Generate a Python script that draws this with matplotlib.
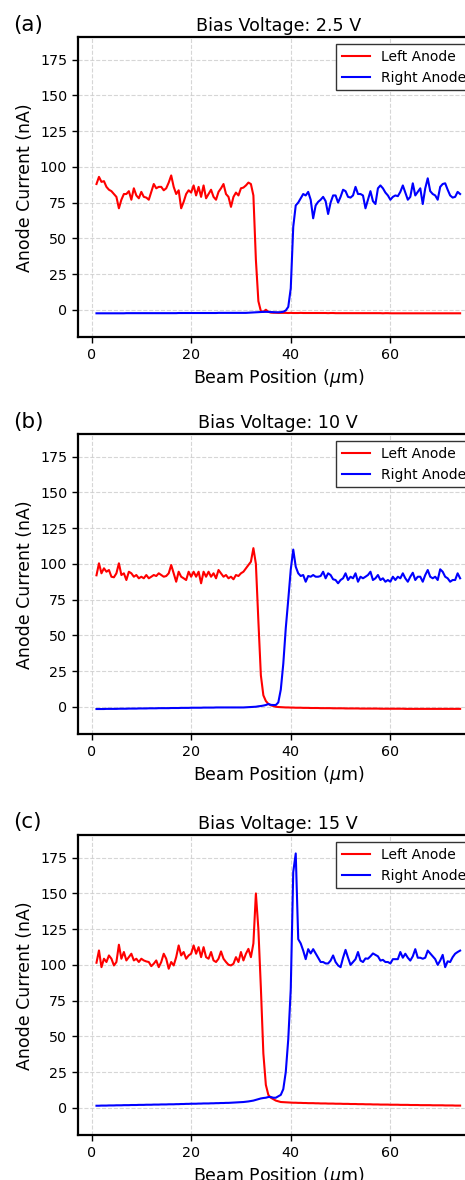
import numpy as np
import matplotlib
matplotlib.use("Agg")
import matplotlib.pyplot as plt

# Beam positions (µm), 0.5 µm step from 1 to 74
beam_pos = np.arange(1.0, 74.001, 0.5)

panel_labels = ["(a)", "(b)", "(c)"]
titles = ["Bias Voltage: 2.5 V", "Bias Voltage: 10 V", "Bias Voltage: 15 V"]

left_25 = [
    88, 93, 89.5, 90, 86, 84, 83, 81, 79, 71,
    77, 81, 81, 83, 77, 85, 80, 78, 82.5, 79,
    78.5, 77, 82.5, 88, 85, 86, 86, 83.6, 85, 89,
    94, 86, 81, 83.6, 71, 75.5, 81, 83.6, 82, 87,
    80, 86, 79, 87, 78, 81, 84, 79, 77, 82.5,
    85, 88, 81, 79, 72, 79, 82, 80, 85, 85.5,
    87, 89, 88, 80, 35, 6, -1, -1.5, 0, -1.5,
    -2, -2.1, -2.1, -2.2, -2.2, -2.2, -2.2, -2.3, -2.2, -2.3,
    -2.3, -2.3, -2.2, -2.3, -2.3, -2.3, -2.3, -2.3, -2.3, -2.3,
    -2.3, -2.3, -2.3, -2.4, -2.3, -2.3, -2.4, -2.4, -2.4, -2.4,
    -2.4, -2.4, -2.4, -2.4, -2.4, -2.4, -2.4, -2.4, -2.4, -2.4,
    -2.4, -2.4, -2.4, -2.4, -2.4, -2.5, -2.4, -2.4, -2.5, -2.5,
    -2.5, -2.5, -2.5, -2.5, -2.5, -2.5, -2.5, -2.5, -2.5, -2.5,
    -2.5, -2.5, -2.5, -2.5, -2.5, -2.5, -2.5, -2.5, -2.5, -2.5,
    -2.5, -2.5, -2.5, -2.5, -2.5, -2.5, -2.5,
]
right_25 = [
    -2.5, -2.5, -2.5, -2.5, -2.5, -2.5, -2.5, -2.5, -2.5, -2.5,
    -2.5, -2.5, -2.4, -2.4, -2.4, -2.4, -2.4, -2.4, -2.4, -2.4,
    -2.4, -2.4, -2.4, -2.4, -2.4, -2.4, -2.4, -2.4, -2.4, -2.4,
    -2.4, -2.4, -2.4, -2.3, -2.3, -2.3, -2.3, -2.3, -2.3, -2.3,
    -2.3, -2.3, -2.3, -2.3, -2.3, -2.3, -2.3, -2.3, -2.3, -2.2,
    -2.2, -2.2, -2.2, -2.2, -2.2, -2.2, -2.2, -2.2, -2.2, -2.2,
    -2.2, -2.1, -2.0, -1.9, -1.8, -1.7, -1.6, -1.5, -1.5, -1.5,
    -1.6, -1.7, -1.8, -1.8, -1.7, -1.4, -0.5, 2, 15, 58,
    73, 75, 78, 81, 80, 82.5, 77, 64, 73, 75.5,
    77, 79, 76, 67, 75, 80, 80, 75, 79, 84,
    83, 79, 78.5, 80, 86, 81, 81, 80, 71, 77,
    83, 76, 74, 85, 87, 85, 82, 80, 77, 79,
    80, 79.5, 82.5, 87, 82, 77, 79, 88.5, 80, 82.5,
    85, 74, 85, 92, 83, 81, 80, 77, 86, 88,
    88.5, 84, 80, 78.5, 79, 82.5, 81,
]

left_10 = [
    92, 100.4, 93.4, 96.9, 94.5, 95.7, 91, 90.6, 93.4, 100.4,
    92.2, 93.4, 88.7, 94.5, 93.4, 91, 92.2, 89.9, 91, 89.9,
    92.2, 89.9, 91, 92.2, 91.5, 93.4, 92.2, 91, 91.5, 93.4,
    99.2, 93.4, 87.5, 94.5, 91, 89.9, 88.7, 94.5, 91, 94.5,
    91, 94.5, 86.4, 94.5, 91, 94.5, 91, 93.4, 89.9, 95.7,
    93.4, 91, 92.2, 89.9, 91, 89.2, 92.2, 91.5, 93.4, 94.5,
    96.9, 99.2, 101.5, 111, 100, 60, 22, 8, 4, 2,
    1, 0.5, 0, -0.2, -0.3, -0.4, -0.5, -0.5, -0.6, -0.6,
    -0.7, -0.7, -0.7, -0.8, -0.8, -0.8, -0.9, -0.9, -0.9, -0.9,
    -1.0, -1.0, -1.0, -1.0, -1.0, -1.1, -1.1, -1.1, -1.1, -1.1,
    -1.2, -1.2, -1.2, -1.2, -1.2, -1.2, -1.3, -1.3, -1.3, -1.3,
    -1.3, -1.3, -1.3, -1.3, -1.4, -1.4, -1.4, -1.4, -1.4, -1.4,
    -1.4, -1.4, -1.4, -1.4, -1.5, -1.5, -1.5, -1.5, -1.5, -1.5,
    -1.5, -1.5, -1.5, -1.5, -1.5, -1.5, -1.5, -1.5, -1.5, -1.5,
    -1.5, -1.5, -1.5, -1.5, -1.5, -1.5, -1.5,
]
right_10 = [
    -1.6, -1.6, -1.6, -1.6, -1.5, -1.5, -1.5, -1.5, -1.5, -1.4,
    -1.4, -1.4, -1.4, -1.3, -1.3, -1.3, -1.3, -1.2, -1.2, -1.2,
    -1.2, -1.1, -1.1, -1.1, -1.1, -1.0, -1.0, -1.0, -1.0, -1.0,
    -0.9, -0.9, -0.9, -0.9, -0.8, -0.8, -0.8, -0.8, -0.7, -0.7,
    -0.7, -0.7, -0.7, -0.6, -0.6, -0.6, -0.6, -0.6, -0.5, -0.5,
    -0.5, -0.5, -0.5, -0.5, -0.5, -0.5, -0.5, -0.5, -0.5, -0.5,
    -0.4, -0.3, -0.2, -0.1, 0, 0.3, 0.5, 0.8, 1.2, 1.9,
    1.3, 1.2, 1.2, 3, 12, 30, 55, 75, 96, 110,
    98, 93.4, 91.5, 92.2, 87.5, 91.5, 91, 92.2, 91, 91,
    91.5, 94.5, 89.9, 93.4, 92.2, 89.2, 88.7, 86.4, 88.7, 89.9,
    93.4, 88.7, 91, 89.9, 93.4, 87.5, 91, 89.9, 91, 92.2,
    94.5, 88.7, 89.9, 92.2, 88.7, 89.9, 87.5, 88.7, 87.5, 91,
    88.7, 91, 89.9, 93.4, 89.9, 87.5, 91, 93.8, 88.7, 91,
    91, 87.5, 92.2, 95.7, 91, 89.9, 91, 88.7, 96.2, 94.5,
    91, 89.9, 87.5, 88.7, 88.7, 93.4, 89.9,
]

left_15 = [
    101.5, 110.1, 98.4, 104.3, 102, 106.6, 104.3, 99.6, 102, 114.1,
    104.3, 109, 103.1, 105.4, 107.8, 103.1, 104.3, 102, 104.3, 103.1,
    102.4, 102, 99.1, 100.8, 103.1, 98.4, 102, 107.8, 104.3, 97.3,
    102, 99.6, 105.4, 113.6, 106.6, 109, 104.3, 106.6, 107.8, 113.6,
    107.8, 112.4, 105.4, 112.4, 105.4, 104.3, 109, 103.1, 102, 104.3,
    109.4, 104.3, 102, 100.1, 99.6, 100.8, 105.4, 102, 109, 103.1,
    107.8, 111.2, 105.4, 115, 150, 125, 84, 38, 16, 9,
    7, 6, 5, 4.5, 4, 3.9, 3.8, 3.7, 3.6, 3.5,
    3.5, 3.4, 3.4, 3.3, 3.3, 3.2, 3.2, 3.2, 3.1, 3.1,
    3.0, 3.0, 3.0, 2.9, 2.9, 2.9, 2.8, 2.8, 2.8, 2.7,
    2.7, 2.7, 2.6, 2.6, 2.6, 2.5, 2.5, 2.5, 2.4, 2.4,
    2.4, 2.3, 2.3, 2.3, 2.2, 2.2, 2.2, 2.2, 2.1, 2.1,
    2.1, 2.1, 2.0, 2.0, 2.0, 2.0, 1.9, 1.9, 1.9, 1.9,
    1.8, 1.8, 1.8, 1.8, 1.8, 1.7, 1.7, 1.7, 1.7, 1.7,
    1.6, 1.6, 1.6, 1.6, 1.5, 1.5, 1.5,
]
right_15 = [
    1.4, 1.4, 1.5, 1.5, 1.5, 1.6, 1.6, 1.6, 1.7, 1.7,
    1.7, 1.8, 1.8, 1.8, 1.9, 1.9, 1.9, 2.0, 2.0, 2.0,
    2.1, 2.1, 2.1, 2.2, 2.2, 2.2, 2.3, 2.3, 2.3, 2.4,
    2.4, 2.4, 2.5, 2.5, 2.6, 2.6, 2.7, 2.7, 2.8, 2.8,
    2.8, 2.9, 2.9, 3.0, 3.0, 3.0, 3.1, 3.1, 3.2, 3.2,
    3.3, 3.3, 3.4, 3.4, 3.5, 3.6, 3.7, 3.8, 3.9, 4.0,
    4.2, 4.4, 4.7, 5.0, 5.5, 6.0, 6.5, 6.8, 7.0, 7.5,
    7.5, 7.0, 7.0, 8.0, 9.0, 13, 25, 48, 83, 165,
    178, 118, 115, 110, 104, 111, 108, 111, 108, 105,
    102, 102, 101, 101, 103, 106.6, 102, 99.6, 98.4, 105,
    110.5, 105, 100, 102, 104, 109, 103, 102, 104.5, 104.3,
    106, 108, 107, 106, 103, 103.5, 102, 102, 101, 104,
    104, 104, 109, 105, 107.8, 105, 103, 106, 111, 105,
    105, 104.3, 105, 110, 108, 106, 104, 100, 103, 107,
    98.4, 102.5, 102, 105.4, 107.8, 109, 110,
]

left_series = [left_25, left_10, left_15]
right_series = [right_25, right_10, right_15]

y_ticks = [0, 25, 50, 75, 100, 125, 150, 175]
x_ticks = [0, 20, 40, 60]

fig = plt.figure(figsize=(4.65, 11.8), dpi=100)

W, H = 465.0, 1180.0
ax_left = 78.3 / W
ax_width = 400.0 / W
ax_height = 300.0 / H
ax_tops = [37.3, 434.3, 835.3]
label_centers = [25.0, 421.7, 821.7]

for k in range(3):
    bottom = 1 - (ax_tops[k] + 300.0) / H
    ax = fig.add_axes([ax_left, bottom, ax_width, ax_height])
    ax.plot(beam_pos, left_series[k], color="#ff0000", lw=1.5, label="Left Anode")
    ax.plot(beam_pos, right_series[k], color="#0000ff", lw=1.5, label="Right Anode")
    ax.set_xlim(-2.65, 77.65)
    ax.set_ylim(-19.3, 190.7)
    ax.set_xticks(x_ticks)
    ax.set_yticks(y_ticks)
    ax.tick_params(labelsize=10.3, width=1.0, length=4.5)
    ax.grid(True, linestyle="--", color="#cccccc", linewidth=0.8, alpha=0.8)
    for sp in ax.spines.values():
        sp.set_linewidth(1.6)
    ax.set_xlabel(r"Beam Position ($\mu$m)", fontsize=12.5, labelpad=3)
    ax.set_ylabel("Anode Current (nA)", fontsize=12.5)
    ax.set_title(titles[k], fontsize=12.6, pad=4.5)
    leg = ax.legend(loc="upper right", fontsize=10, fancybox=False,
                    edgecolor="#333333", framealpha=1.0)
    leg.get_frame().set_linewidth(1.0)
    fig.text(13 / W, 1 - label_centers[k] / H, panel_labels[k],
             fontsize=15.5, ha="left", va="center")

fig.savefig("out.png", dpi=100)
